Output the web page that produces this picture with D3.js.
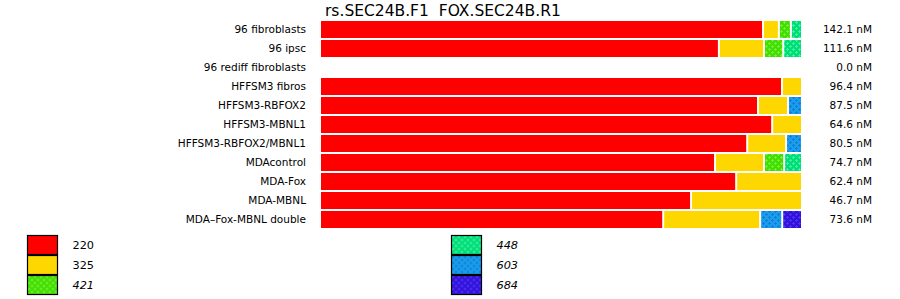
<!DOCTYPE html>
<html>
<head>
<meta charset="utf-8">
<script src="https://cdn.jsdelivr.net/npm/d3@7"></script>
<style>
  body { margin: 0; background: #fff; }
  svg { font-family: "DejaVu Sans", sans-serif; display: block; }
</style>
</head>
<body>
<svg id="chart"></svg>
<script>
const width = 900;
const height = 299;

const title = "rs.SEC24B.F1\u00a0\u00a0FOX.SEC24B.R1";

const categories = [
  "96 fibroblasts", "96 ipsc", "96 rediff fibroblasts", "HFFSM3 fibros",
  "HFFSM3-RBFOX2", "HFFSM3-MBNL1", "HFFSM3-RBFOX2/MBNL1", "MDAcontrol",
  "MDA-Fox", "MDA-MBNL", "MDA\u2013Fox-MBNL double"
];
const totals = [142.1, 111.6, 0.0, 96.4, 87.5, 64.6, 80.5, 74.7, 62.4, 46.7, 73.6];

// percent of each row for every product size
const sizes = ["220", "325", "421", "448", "603", "684"];
const s220 = [92.3, 83.1, 0, 96.25, 91.25, 94.2, 89.0, 82.3, 86.7, 77.3, 71.5];
const s325 = [3.3, 9.4, 0, 3.75, 6.25, 5.8, 8.1, 10.2, 13.3, 22.7, 20.2];
const s421 = [2.5, 4.0, 0, 0, 0, 0, 0, 4.2, 0, 0, 0];
const s448 = [1.9, 3.5, 0, 0, 0, 0, 0, 3.3, 0, 0, 0];
const s603 = [0, 0, 0, 0, 2.5, 0, 2.9, 0, 0, 0, 4.6];
const s684 = [0, 0, 0, 0, 0, 0, 0, 0, 0, 0, 3.7];
const italicSizes = ["421", "448", "603", "684"];

const colors = {
  "220": { base: "#ff0000" },
  "325": { base: "#ffd700" },
  "421": { base: "#44dd00", dot: "#6ef03a" },
  "448": { base: "#00dd77", dot: "#3cf29e" },
  "603": { base: "#1a9ded", dot: "#0f7fd6" },
  "684": { base: "#3311dd", dot: "#4d33ee" }
};

const svg = d3.select("#chart").attr("width", width).attr("height", height);

// patterns for the dotted fills
const defs = svg.append("defs");
sizes.forEach((k) => {
  const c = colors[k];
  if (!c.dot) return;
  const p = defs.append("pattern")
    .attr("id", "pat" + k)
    .attr("patternUnits", "userSpaceOnUse")
    .attr("width", 6).attr("height", 6);
  p.append("rect").attr("width", 6).attr("height", 6).attr("fill", c.base);
  [[1.5, 1.5], [4.5, 4.5]].forEach(([cx, cy]) => {
    p.append("rect").attr("x", cx - 1.5).attr("y", cy - 0.5).attr("width", 3).attr("height", 1).attr("fill", c.dot);
    p.append("rect").attr("x", cx - 0.5).attr("y", cy - 1.5).attr("width", 1).attr("height", 3).attr("fill", c.dot);
  });
});
const fillOf = (k) => colors[k].dot ? "url(#pat" + k + ")" : colors[k].base;

const table = categories.map((c, i) => ({
  cat: c,
  "220": s220[i], "325": s325[i], "421": s421[i],
  "448": s448[i], "603": s603[i], "684": s684[i]
}));
const series = d3.stack().keys(sizes)(table);

const x = d3.scaleLinear().domain([0, 100]).range([321, 801]);
const y = d3.scaleBand().domain(categories).range([20, 229])
  .paddingInner(2 / 19).paddingOuter(1 / 19);

// title
svg.append("text")
  .attr("x", 325).attr("y", 16)
  .attr("font-size", 15.5)
  .text(title);

// bars
const gap = 2;
svg.append("g").selectAll("g")
  .data(series)
  .join("g")
  .attr("fill", (s) => fillOf(s.key))
  .selectAll("rect")
  .data((s) => s.filter((d) => d[1] - d[0] > 0))
  .join("rect")
  .attr("x", (d) => x(d[0]))
  .attr("y", (d) => y(d.data.cat))
  .attr("height", y.bandwidth())
  .attr("width", (d) => {
    const w = x(d[1]) - x(d[0]);
    return d[1] < 99.99 ? Math.max(0, w - gap) : w;
  });

// row labels
svg.append("g").selectAll("text")
  .data(categories)
  .join("text")
  .attr("x", 306)
  .attr("y", (c) => y(c) + y.bandwidth() / 2)
  .attr("dy", "0.35em")
  .attr("text-anchor", "end")
  .attr("font-size", 10.5)
  .text((c) => c);

// totals
svg.append("g").selectAll("text")
  .data(categories)
  .join("text")
  .attr("x", 872)
  .attr("y", (c) => y(c) + y.bandwidth() / 2)
  .attr("dy", "0.35em")
  .attr("text-anchor", "end")
  .attr("font-size", 10.5)
  .text((c, i) => totals[i].toFixed(1) + " nM");

// legend
const legend = svg.append("g").selectAll("g")
  .data(sizes)
  .join("g")
  .attr("transform", (k, i) =>
    "translate(" + (i < 3 ? 27.5 : 451.5) + "," + (235.5 + (i % 3) * 20) + ")");

legend.append("rect")
  .attr("width", 30).attr("height", 19)
  .attr("fill", (k) => fillOf(k))
  .attr("stroke", "#000").attr("stroke-width", 1.2);

legend.append("text")
  .attr("x", 45).attr("y", 10)
  .attr("dy", "0.35em")
  .attr("font-size", 11.3)
  .attr("font-style", (k) => italicSizes.includes(k) ? "italic" : "normal")
  .text((k) => k);
</script>
</body>
</html>
